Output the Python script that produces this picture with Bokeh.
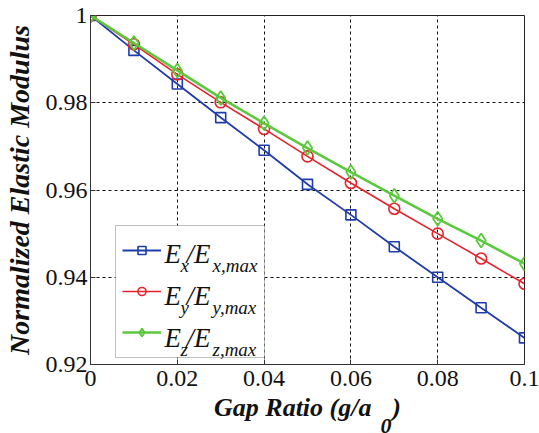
import math
from bokeh.plotting import figure
from bokeh.models import (Range1d, Legend, LegendItem, Label, FixedTicker, BoxAnnotation)
from bokeh.embed import file_html
from bokeh.resources import INLINE

# ---- data ----
gap_ratio = [0.0, 0.01, 0.02, 0.03, 0.04, 0.05, 0.06, 0.07, 0.08, 0.09, 0.10]
ex_norm = [1.0, 0.9920, 0.9843, 0.9766, 0.9691, 0.9613, 0.9543, 0.9470, 0.9400, 0.9330, 0.9261]
ey_norm = [1.0, 0.9934, 0.9865, 0.9801, 0.9740, 0.9677, 0.9616, 0.9557, 0.9500, 0.9443, 0.9385]
ez_norm = [1.0, 0.9937, 0.9874, 0.9811, 0.9753, 0.9696, 0.9641, 0.9587, 0.9534, 0.9484, 0.9431]
x_ticks = [0.0, 0.02, 0.04, 0.06, 0.08, 0.10]
x_tick_labels = ["0", "0.02", "0.04", "0.06", "0.08", "0.1"]
y_ticks = [0.92, 0.94, 0.96, 0.98, 1.0]
y_tick_labels = ["0.92", "0.94", "0.96", "0.98", "1"]
legend_parts = [("x", "x,max"), ("y", "y,max"), ("z", "z,max")]

BLUE = "#1f3caa"
RED = "#e8222a"
GREEN = "#5cc83c"
INK = "#111111"
SERIF = "Liberation Serif"

p = figure(width=539, height=433, output_backend="svg", toolbar_location=None,
           x_range=Range1d(0, 0.1), y_range=Range1d(0.92, 1.0),
           min_border_left=90, min_border_right=15, min_border_top=15, min_border_bottom=69)
p.background_fill_color = "white"
p.border_fill_color = "white"
p.outline_line_color = "#222222"
p.outline_line_width = 1

for g in (p.xgrid, p.ygrid):
    g.grid_line_color = "#111111"
    g.grid_line_dash = "3 3"
    g.grid_line_width = 1
p.xgrid.ticker = FixedTicker(ticks=x_ticks)
p.ygrid.ticker = FixedTicker(ticks=y_ticks)

def style_axis(ax, ticks, labels):
    ax.ticker = FixedTicker(ticks=ticks)
    ax.major_label_overrides = {t: l for t, l in zip(ticks, labels)}
    ax.major_tick_in = 5
    ax.major_tick_out = 0
    ax.minor_tick_in = 0
    ax.minor_tick_out = 0
    ax.axis_line_color = "#333333"
    ax.major_tick_line_color = "#333333"
    ax.major_label_text_font = SERIF
    ax.major_label_text_font_size = "24px"
    ax.major_label_text_color = INK
    ax.axis_label_text_font = SERIF
    ax.axis_label_text_font_style = "bold italic"
    ax.axis_label_text_color = INK

xa = p.xaxis[0]
ya = p.yaxis[0]
style_axis(xa, x_ticks, x_tick_labels)
style_axis(ya, y_ticks, y_tick_labels)
xa.major_label_standoff = 6
ya.major_label_standoff = 3

ya.axis_label = "Normalized Elastic Modulus"
ya.axis_label_text_font_size = "28px"
ya.axis_label_standoff = 8

xa.axis_label = "Gap Ratio (g/a\u2009\u2009\u2009\u2009)"
xa.axis_label_text_font_size = "26px"
xa.axis_label_standoff = 4

# subscript of the x title, in the right side panel (not clipped by the frame)
p.add_layout(Label(x=-144, y=-61, x_units="screen", y_units="screen", text="0",
                   text_font=SERIF, text_font_style="bold italic", text_font_size="22px",
                   text_color=INK, text_baseline="alphabetic"), "right")

# legend box
p.add_layout(BoxAnnotation(left=25, right=174, bottom=7, top=139,
                           left_units="screen", right_units="screen",
                           bottom_units="screen", top_units="screen",
                           fill_color="white", fill_alpha=1.0,
                           line_color="#333333", line_width=1, level="underlay"))

l1 = p.line(gap_ratio, ex_norm, line_color=BLUE, line_width=1.8)
m1 = p.scatter(gap_ratio, ex_norm, marker="square", size=10, line_color=BLUE,
               fill_color=None, line_width=1.6)
l2 = p.line(gap_ratio, ey_norm, line_color=RED, line_width=1.6)
m2 = p.scatter(gap_ratio, ey_norm, marker="circle", size=11, line_color=RED,
               fill_color=None, line_width=1.6)
l3 = p.line(gap_ratio, ez_norm, line_color=GREEN, line_width=2.6)
m3 = p.scatter(gap_ratio, ez_norm, marker="diamond", size=14, line_color=GREEN,
               fill_color=None, line_width=1.8)

legend = Legend(items=[LegendItem(label="Ex", renderers=[l1, m1]),
                       LegendItem(label="Ey", renderers=[l2, m2]),
                       LegendItem(label="Ez", renderers=[l3, m3])],
                location=(25, 7), padding=7, spacing=5, glyph_width=39, glyph_height=20,
                label_height=36, label_width=96, label_standoff=0,
                label_text_alpha=0, label_text_font_size="10px",
                border_line_alpha=0, background_fill_alpha=0)
p.add_layout(legend, "center")

def lab(**kw):
    base = dict(x_units="screen", y_units="screen", text_font=SERIF,
                text_color=INK, text_baseline="alphabetic")
    base.update(kw)
    p.add_layout(Label(**base))

for i, (sub1, sub2) in enumerate(legend_parts):
    base = 111 - 42 * i
    lab(x=74, y=base, text="E", text_font_style="italic", text_font_size="27px")
    lab(x=90, y=base - 12, text=sub1, text_font_style="italic", text_font_size="19px")
    lab(x=96, y=base, text="/E", text_font_style="italic", text_font_size="27px")
    lab(x=122, y=base - 12, text=sub2, text_font_style="italic", text_font_size="19px")

open("out.html", "w").write(file_html(p, INLINE))
